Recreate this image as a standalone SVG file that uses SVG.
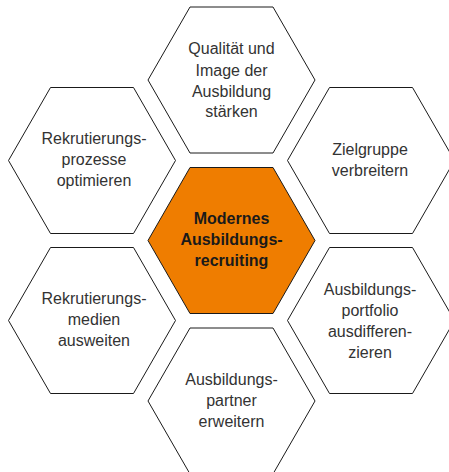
<svg xmlns="http://www.w3.org/2000/svg" xmlns:xlink="http://www.w3.org/1999/xlink" width="449" height="472" viewBox="0 0 449 472">
<style>
.hex{fill:#ffffff;stroke:#1a1a1a;stroke-width:1}
.hexc{fill:#EF7D00;stroke:#1a1a1a;stroke-width:1}
.t{font-family:"Liberation Sans",Arial,sans-serif;font-size:16px;fill:#333333;text-anchor:middle}
.tc{font-family:"Liberation Sans",Arial,sans-serif;font-size:16px;font-weight:bold;fill:#1a1a1a;text-anchor:middle}
</style>
<defs>
<polygon id="hx" points="-83.5,0 -41.5,-73 41.5,-73 83.5,0 41.5,73 -41.5,73"/>
</defs>
<rect width="449" height="472" fill="#ffffff"/>
<g id="connectors"></g>
<g id="node-top">
<use xlink:href="#hx" class="hex" transform="translate(231.5,80)"/>
<text class="t" x="231.5" y="54">Qualität und</text>
<text class="t" x="231.5" y="75.5">Image der</text>
<text class="t" x="231.5" y="96.5">Ausbildung</text>
<text class="t" x="231.5" y="117">stärken</text>
</g>
<g id="node-left-upper">
<use xlink:href="#hx" class="hex" transform="translate(92,160.5)"/>
<text class="t" x="94" y="144">Rekrutierungs-</text>
<text class="t" x="94" y="165">prozesse</text>
<text class="t" x="94" y="186">optimieren</text>
</g>
<g id="node-right-upper">
<use xlink:href="#hx" class="hex" transform="translate(371,160.5)"/>
<text class="t" x="370" y="155">Zielgruppe</text>
<text class="t" x="370" y="176">verbreitern</text>
</g>
<g id="node-center">
<use xlink:href="#hx" class="hexc" transform="translate(231.5,240.5)"/>
<text class="tc" x="231.5" y="224">Modernes</text>
<text class="tc" x="231.5" y="245">Ausbildungs-</text>
<text class="tc" x="231.5" y="266">recruiting</text>
</g>
<g id="node-left-lower">
<use xlink:href="#hx" class="hex" transform="translate(92,320.5)"/>
<text class="t" x="94" y="304">Rekrutierungs-</text>
<text class="t" x="94" y="325">medien</text>
<text class="t" x="94" y="346">ausweiten</text>
</g>
<g id="node-right-lower">
<use xlink:href="#hx" class="hex" transform="translate(371,320.5)"/>
<text class="t" x="370" y="295">Ausbildungs-</text>
<text class="t" x="370" y="316">portfolio</text>
<text class="t" x="370" y="337">ausdifferen-</text>
<text class="t" x="370" y="358">zieren</text>
</g>
<g id="node-bottom">
<use xlink:href="#hx" class="hex" transform="translate(231.5,401)"/>
<text class="t" x="231.5" y="385">Ausbildungs-</text>
<text class="t" x="231.5" y="406">partner</text>
<text class="t" x="231.5" y="427">erweitern</text>
</g>
</svg>
